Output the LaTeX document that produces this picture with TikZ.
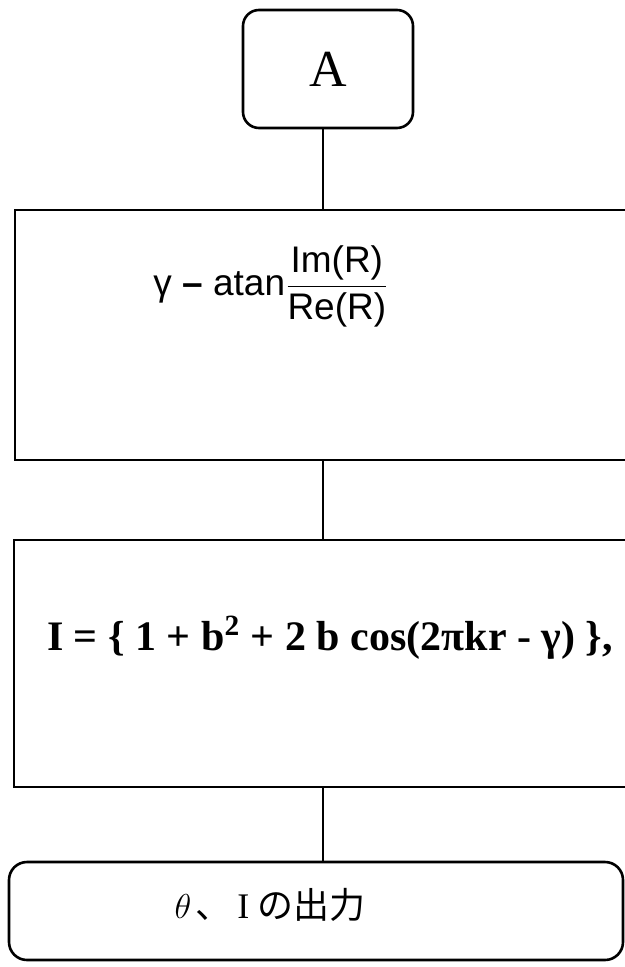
\documentclass[tikz,border=0pt]{standalone}
\usepackage{amsmath,fontspec}
\setmainfont{Liberation Serif}
\newfontfamily\formsans{Liberation Sans}
\newfontfamily\jpfont{Noto Sans CJK JP}
\usetikzlibrary{positioning}

\begin{document}
\begin{tikzpicture}[x=0.5pt,y=-0.5pt,line width=1.3pt,
  term/.style={draw,rounded corners=8pt,inner sep=0pt},
  proc/.style={draw,inner sep=0pt},
  txt/.style={inner sep=0pt}]
\useasboundingbox (0,0) rectangle (625,967);
\node[term,minimum width=85pt,minimum height=59pt,font=\fontsize{26}{30}\selectfont](start) at (328,69){A};
\node[proc,minimum width=320pt,minimum height=125pt](gam) at (335,335){};
\node[txt,font=\formsans\fontsize{18.5}{22}\selectfont](gamtxt) at (271,286){γ \textbf{–} atan$\dfrac{\mbox{Im(R)}}{\mbox{Re(R)}}$};
\node[proc,minimum width=320pt,minimum height=123.5pt](inten) at (334,663.5){};
\node[txt,font=\bfseries\fontsize{21}{24}\selectfont](intentxt) at (330,638){I = \{ 1 + b\textsuperscript{2} + 2 b cos(2πkr - γ) \},};
\node[term,rounded corners=9pt,minimum width=307pt,minimum height=49pt](out) at (316,911){};
\node[txt,font=\fontsize{18}{22}\selectfont](outtxt) at (270,905){$\theta$\hspace{2pt}{\jpfont 、}\hspace{3pt}I\hspace{4pt}{\jpfont の出力}};
\coordinate (spine) at (323,0);
\draw (start.south -| spine)--(gam.north -| spine);\draw (gam.south -| spine)--(inten.north -| spine);\draw (inten.south -| spine)--(out.north -| spine);
\end{tikzpicture}
\end{document}
